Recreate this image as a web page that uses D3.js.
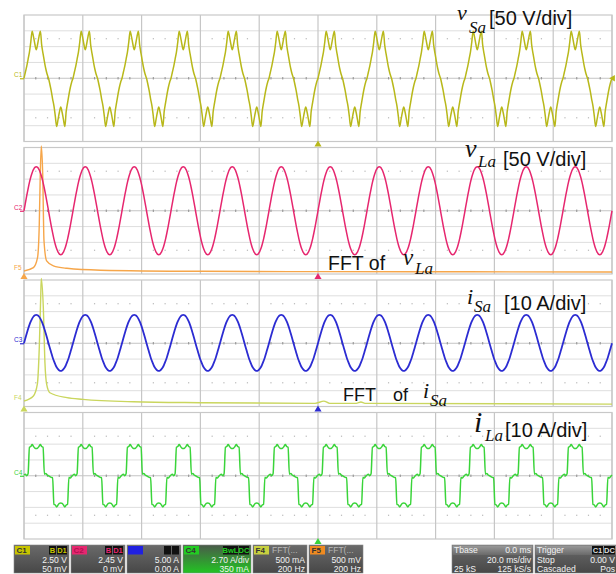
<!DOCTYPE html>
<html>
<head>
<meta charset="utf-8">
<script src="https://cdn.jsdelivr.net/npm/d3@7"></script>
<style>
  body { margin: 0; background: #fff; }
  svg { display: block; }
</style>
</head>
<body>
<svg id="scope" width="616" height="574"></svg>
<script>
// ---- data ----
const timeDivs = [0, 20, 40, 60, 80, 100, 120, 140, 160, 180, 200]; // ms, 20 ms/div
const voltDivs = [-4, -3, -2, -1, 0, 1, 2, 3, 4];
const fundamentalHz = 60;
const cyclesShown = 12;

// one cycle of each trace, sampled every 10 deg, values in divisions
const phaseDeg = [0, 10, 20, 30, 40, 50, 60, 70, 80, 90, 100, 110, 120, 130, 140, 150, 160, 170,
  180, 190, 200, 210, 220, 230, 240, 250, 260, 270, 280, 290, 300, 310, 320, 330, 340, 350];
const vSaCycle = [0, 0.38, 0.75, 1.2, 1.65, 2.3, 2.98, 2.62, 2.15, 1.8, 2.15, 2.62, 2.98, 2.1, 1.55, 1.05, 0.6, 0.25,
  0, -0.38, -0.8, -1.3, -1.75, -2.4, -3.05, -2.62, -2.15, -1.82, -2.15, -2.62, -3.05, -2.1, -1.55, -1.05, -0.6, -0.25];
const vLaCycle = [0, 0.48, 0.95, 1.39, 1.79, 2.13, 2.41, 2.61, 2.74, 2.78, 2.74, 2.61, 2.41, 2.13, 1.79, 1.39, 0.95, 0.48,
  0, -0.48, -0.95, -1.39, -1.79, -2.13, -2.41, -2.61, -2.74, -2.78, -2.74, -2.61, -2.41, -2.13, -1.79, -1.39, -0.95, -0.48];
const iSaCycle = [0, 0.31, 0.61, 0.9, 1.16, 1.38, 1.56, 1.69, 1.77, 1.8, 1.77, 1.69, 1.56, 1.38, 1.16, 0.9, 0.61, 0.31,
  0, -0.3, -0.6, -0.88, -1.12, -1.34, -1.52, -1.64, -1.72, -1.75, -1.72, -1.64, -1.52, -1.34, -1.12, -0.88, -0.6, -0.3];
const iLaCycle = [0.05, 0.1, 0.0, 0.12, 1.8, 1.85, 1.97, 1.85, 1.75, 1.72, 1.75, 1.85, 1.97, 1.85, 1.8, 0.1, 0.15, 0.05,
  0.0, -0.05, -0.1, -0.12, -1.8, -1.85, -1.97, -1.85, -1.75, -1.72, -1.75, -1.85, -1.97, -1.85, -1.8, -0.1, -0.15, -0.05];

// FFT traces: frequency (Hz, 200 Hz/div) and magnitude (div above the panel bottom)
const fftVLaHz = [0, 32, 46, 52, 55.4, 58.8, 63.6, 68, 77, 100, 146, 260, 600, 1000, 1500, 2000];
const fftVLaMag = [0.19, 0.4, 1.03, 3.17, 6.35, 8.1, 6.35, 2.1, 0.83, 0.51, 0.36, 0.24, 0.17, 0.15, 0.14, 0.13];
const fftISaHz = [0, 32, 45.4, 52, 56.8, 58.8, 65.6, 71.4, 77, 88, 146, 200, 372, 600, 990, 1020, 1040, 1130, 1146, 1160, 2000];
const fftISaMag = [0.35, 0.67, 1.41, 3.74, 6.9, 8.1, 6.3, 2.7, 1.41, 0.87, 0.56, 0.45, 0.3, 0.24, 0.2, 0.34, 0.2, 0.2, 0.28, 0.2, 0.15];

const svg = d3.select('#scope');
const panelTop = (i) => 15 + i * 132.5;
const panelH = 126.5;
const periodMs = 1000 / fundamentalHz;
const x = d3.scaleLinear().domain([0, 200]).range([24, 612]);
const fx = d3.scaleLinear().domain([0, 2000]).range([24, 612]);

const panels = [
  { cycle: vSaCycle, color: '#b8b81a', ch: 'C1', width: 1.5 },
  { cycle: vLaCycle, color: '#e6276f', ch: 'C2', width: 1.5 },
  { cycle: iSaCycle, color: '#2c2cd2', ch: 'C3', width: 1.8 },
  { cycle: iLaCycle, color: '#3ad43a', ch: 'C4', width: 1.5 }
];

const buildWave = (cycle) => {
  let pts = [];
  for (let c = 0; c < cyclesShown; c++) {
    cycle.forEach((v, k) => pts.push({ t: (c + phaseDeg[k] / 360) * periodMs, v: v }));
  }
  pts.push({ t: cyclesShown * periodMs, v: cycle[0] });
  return pts;
};

// ---- grid ----
const drawGrid = (g, top) => {
  let y = d3.scaleLinear().domain([-4, 4]).range([top + panelH, top]);
  g.selectAll('.hline')
    .data(voltDivs.filter(d => d !== 0 && Math.abs(d) < 4))
    .enter().append('line')
    .attr('x1', x(0)).attr('x2', x(200))
    .attr('y1', d => y(d)).attr('y2', d => y(d))
    .attr('stroke', '#dedede').attr('stroke-width', 1);
  g.selectAll('.vline')
    .data(timeDivs)
    .enter().append('line')
    .attr('x1', d => x(d)).attr('x2', d => x(d))
    .attr('y1', top).attr('y2', top + panelH)
    .attr('stroke', '#c6c6c6').attr('stroke-width', 1.2);
  g.append('line')
    .attr('x1', x(0)).attr('x2', x(200))
    .attr('y1', y(0)).attr('y2', y(0))
    .attr('stroke', '#c4c4c4').attr('stroke-width', 1);
  g.append('rect')
    .attr('x', x(0)).attr('y', top)
    .attr('width', x(200) - x(0)).attr('height', panelH)
    .attr('fill', 'none').attr('stroke', '#c8c8c8').attr('stroke-width', 1.2);
  // minor ticks on the centre line and dotted rows
  let minor = d3.range(0, 200.01, 4).filter(t => t % 20 !== 0);
  g.selectAll('.tick')
    .data(minor)
    .enter().append('rect')
    .attr('x', d => x(d) - 0.6).attr('y', y(0) - 1.2)
    .attr('width', 1.2).attr('height', 2.4)
    .attr('fill', '#9a9a9a');
  [2.5, -2.5].forEach(r => {
    g.selectAll('.dot' + (r > 0 ? 'p' : 'n'))
      .data(minor)
      .enter().append('rect')
      .attr('x', d => x(d) - 0.6).attr('y', y(r) - 0.6)
      .attr('width', 1.2).attr('height', 1.2)
      .attr('fill', '#b8b8b8');
  });
  return y;
};

panels.forEach((p, i) => {
  let top = panelTop(i);
  let g = svg.append('g').attr('class', 'panel-' + p.ch);
  let y = drawGrid(g, top);
  p.y = y;
  p.top = top;
  // channel marker on the left
  g.append('text')
    .attr('x', 14).attr('y', y(0) - 1)
    .attr('font-family', 'Liberation Sans, Arial, sans-serif')
    .attr('font-size', 6.5)
    .attr('fill', p.color)
    .text(p.ch);
  g.append('line')
    .attr('x1', 20).attr('x2', 24)
    .attr('y1', y(0) + 0.5).attr('y2', y(0) + 0.5)
    .attr('stroke', p.color).attr('stroke-width', 1.2);
});

// ---- FFT traces ----
const ffts = [
  { panel: 1, hz: fftVLaHz, mag: fftVLaMag, color: '#f6a64a', ch: 'F5' },
  { panel: 2, hz: fftISaHz, mag: fftISaMag, color: '#cad65e', ch: 'F4' }
];
ffts.forEach((fd) => {
  let top = panelTop(fd.panel);
  let y = d3.scaleLinear().domain([0, 8]).range([top + panelH, top]);
  let pts = fd.hz.map((h, k) => ({ h: h, m: fd.mag[k] }));
  svg.append('path')
    .attr('class', 'fft-path')
    .attr('d', d3.line().x(d => fx(d.h)).y(d => y(d.m)).curve(d3.curveMonotoneX)(pts))
    .attr('fill', 'none')
    .attr('stroke', fd.color)
    .attr('stroke-width', 1.4);
  svg.append('text')
    .attr('x', 14).attr('y', y(fd.mag[0]) - 1)
    .attr('font-family', 'Liberation Sans, Arial, sans-serif')
    .attr('font-size', 6.5)
    .attr('fill', fd.color)
    .text(fd.ch);
  svg.append('path')
    .attr('d', d3.symbol().type(d3.symbolTriangle).size(22))
    .attr('transform', `translate(${fx(0)},${top + panelH + 3})`)
    .attr('fill', fd.color);
});

// ---- time-domain traces ----
panels.forEach((p) => {
  let line = d3.line()
    .x(d => x(d.t))
    .y(d => p.y(d.v))
    .curve(p.ch === 'C4' ? d3.curveMonotoneX : d3.curveCatmullRom);
  svg.append('path')
    .attr('class', 'line-path')
    .attr('d', line(buildWave(p.cycle)))
    .attr('fill', 'none')
    .attr('stroke', p.color)
    .attr('stroke-width', p.width)
    .attr('stroke-linejoin', 'round');
  // trigger position marker
  svg.append('path')
    .attr('d', d3.symbol().type(d3.symbolTriangle).size(22))
    .attr('transform', `translate(${x(100)},${p.top + panelH + 3})`)
    .attr('fill', p.color);
});
svg.append('path')
  .attr('d', d3.symbol().type(d3.symbolTriangle).size(18))
  .attr('transform', `translate(${x(200) + 1},${panels[0].y(0)}) rotate(-90)`)
  .attr('fill', panels[0].color);

// ---- annotations ----
const serif = 'Liberation Serif, Times New Roman, serif';
const sans = 'Liberation Sans, Arial, sans-serif';
const labels = [
  { t: 'v', x: 457, y: 20, s: 22, f: serif, it: true },
  { t: 'Sa', x: 469, y: 33, s: 17, f: serif, it: true },
  { t: '[50 V/div]', x: 489, y: 25, s: 20, f: sans },
  { t: 'v', x: 465, y: 157, s: 26, f: serif, it: true },
  { t: 'La', x: 478, y: 167, s: 17, f: serif, it: true },
  { t: '[50 V/div]', x: 503, y: 166, s: 20, f: sans },
  { t: 'FFT of', x: 328, y: 270, s: 19.5, f: sans },
  { t: 'v', x: 403, y: 265, s: 23, f: serif, it: true },
  { t: 'La', x: 415, y: 274, s: 17, f: serif, it: true },
  { t: 'i', x: 467, y: 304, s: 22, f: serif, it: true },
  { t: 'Sa', x: 474, y: 312, s: 17, f: serif, it: true },
  { t: '[10 A/div]', x: 504, y: 310, s: 20, f: sans },
  { t: 'FFT', x: 343, y: 401, s: 18, f: sans },
  { t: 'of', x: 393, y: 401, s: 18, f: sans },
  { t: 'i', x: 423, y: 398, s: 22, f: serif, it: true },
  { t: 'Sa', x: 430, y: 406, s: 17, f: serif, it: true },
  { t: 'i', x: 474, y: 432, s: 30, f: serif, it: true },
  { t: 'La', x: 485, y: 441, s: 17, f: serif, it: true },
  { t: '[10 A/div]', x: 505, y: 437, s: 20, f: sans }
];
svg.selectAll('.label')
  .data(labels)
  .enter().append('text')
  .attr('class', 'label')
  .attr('x', d => d.x).attr('y', d => d.y)
  .attr('font-family', d => d.f)
  .attr('font-size', d => d.s)
  .attr('font-style', d => d.it ? 'italic' : 'normal')
  .attr('fill', '#111')
  .text(d => d.t);

// ---- status bar ----
const defs = svg.append('defs');
const grad = (id, c0, c1) => {
  let lg = defs.append('linearGradient').attr('id', id).attr('x1', 0).attr('y1', 0).attr('x2', 0).attr('y2', 1);
  lg.append('stop').attr('offset', '0%').attr('stop-color', c0);
  lg.append('stop').attr('offset', '100%').attr('stop-color', c1);
};
grad('gBox', '#6a6a6a', '#474747');
grad('gGreen', '#4a5a4a', '#22c422');
grad('gHead', '#9a9a9a', '#6a6a6a');

const boxes = [
  { x: 14, w: 55, label: 'C1', lc: '#c8c400', lt: '#333', tags: ['B', 'D1'], tc: '#c8c400', rows: ['2.50 V', '50 mV'] },
  { x: 71, w: 54, label: 'C2', lc: '#e6276f', lt: '#b01050', tags: ['B', 'D1'], tc: '#e6276f', rows: ['2.45 V', '0 mV'] },
  { x: 127, w: 54, label: 'C3', lc: '#2020e0', lt: '#2020e0', tags: ['', ''], tc: '#2020e0', rows: ['5.00 A', '0.00 A'] },
  { x: 183, w: 68, label: 'C4', lc: '#22cc22', lt: '#333', tags: ['BwL', 'DC'], tc: '#22cc22', rows: ['2.70 A/div', '350 mA'], green: true },
  { x: 253, w: 54, label: 'F4', lc: '#c8d040', lt: '#333', fft: 'FFT(...', rows: ['500 mA', '200 Hz'] },
  { x: 309, w: 54, label: 'F5', lc: '#f08a20', lt: '#333', fft: 'FFT(...', rows: ['500 mV', '200 Hz'] }
];
const sy = 545, sh = 28;
const rowY = [18.2, 27.2];
boxes.forEach((b) => {
  let g = svg.append('g');
  g.append('rect').attr('x', b.x).attr('y', sy).attr('width', b.w).attr('height', sh)
    .attr('fill', b.green ? 'url(#gGreen)' : 'url(#gBox)').attr('stroke', '#888').attr('stroke-width', 0.6);
  g.append('rect').attr('x', b.x + 1).attr('y', sy + 1).attr('width', 15).attr('height', 8.5).attr('fill', b.lc);
  g.append('text').attr('x', b.x + 2.5).attr('y', sy + 8)
    .attr('font-family', sans).attr('font-size', 8).attr('font-weight', 'bold').attr('fill', b.lt).text(b.label);
  if (b.tags) {
    let tx = b.x + b.w - 1;
    b.tags.slice().reverse().forEach((t) => {
      let tw = t.length > 2 ? 16 : (t.length === 2 ? 11 : 8);
      tx -= tw;
      g.append('rect').attr('x', tx).attr('y', sy + 1).attr('width', tw - 1).attr('height', 8.5).attr('fill', '#111');
      if (t) {
        g.append('text').attr('x', tx + (tw - 1) / 2).attr('y', sy + 7.8).attr('text-anchor', 'middle')
          .attr('font-family', sans).attr('font-size', 7.5).attr('font-weight', 'bold').attr('fill', b.tc).text(t);
      }
    });
  }
  if (b.fft) {
    g.append('text').attr('x', b.x + 19).attr('y', sy + 8.2)
      .attr('font-family', sans).attr('font-size', 8.5).attr('fill', '#b8b8b8').text(b.fft);
  }
  b.rows.forEach((r, k) => {
    g.append('text').attr('x', b.x + b.w - 2).attr('y', sy + rowY[k]).attr('text-anchor', 'end')
      .attr('font-family', sans).attr('font-size', 8.6).attr('fill', '#f2f2f2').text(r);
  });
});

// timebase and trigger boxes
const infoBoxes = [
  { x: 452, w: 81, head: ['Tbase', '0.0 ms'], rows: [['', '20.0 ms/div'], ['25 kS', '125 kS/s']] },
  { x: 535, w: 82, head: ['Trigger', ''], tags: ['C1', 'DC'], rows: [['Stop', '0.00 V'], ['Cascaded', 'Pos']] }
];
infoBoxes.forEach((b) => {
  let g = svg.append('g');
  g.append('rect').attr('x', b.x).attr('y', sy).attr('width', b.w).attr('height', sh)
    .attr('fill', 'url(#gBox)').attr('stroke', '#888').attr('stroke-width', 0.6);
  g.append('rect').attr('x', b.x + 0.5).attr('y', sy + 0.5).attr('width', b.w - 1).attr('height', 9.5)
    .attr('fill', 'url(#gHead)');
  g.append('text').attr('x', b.x + 2).attr('y', sy + 8)
    .attr('font-family', sans).attr('font-size', 8.6).attr('fill', '#f2f2f2').text(b.head[0]);
  if (b.head[1]) {
    g.append('text').attr('x', b.x + b.w - 2).attr('y', sy + 8).attr('text-anchor', 'end')
      .attr('font-family', sans).attr('font-size', 8.6).attr('fill', '#f2f2f2').text(b.head[1]);
  }
  if (b.tags) {
    let tx = b.x + b.w - 1;
    b.tags.slice().reverse().forEach((t) => {
      tx -= 12;
      g.append('rect').attr('x', tx).attr('y', sy + 1).attr('width', 11).attr('height', 8.5).attr('fill', '#111');
      g.append('text').attr('x', tx + 5.5).attr('y', sy + 7.8).attr('text-anchor', 'middle')
        .attr('font-family', sans).attr('font-size', 7.5).attr('font-weight', 'bold').attr('fill', '#ddd').text(t);
    });
  }
  b.rows.forEach((r, k) => {
    let yy = sy + rowY[k];
    if (r[0]) {
      g.append('text').attr('x', b.x + 2).attr('y', yy)
        .attr('font-family', sans).attr('font-size', 8.6).attr('fill', '#f2f2f2').text(r[0]);
    }
    g.append('text').attr('x', b.x + b.w - 2).attr('y', yy).attr('text-anchor', 'end')
      .attr('font-family', sans).attr('font-size', 8.6).attr('fill', '#f2f2f2').text(r[1]);
  });
});
</script>
</body>
</html>
